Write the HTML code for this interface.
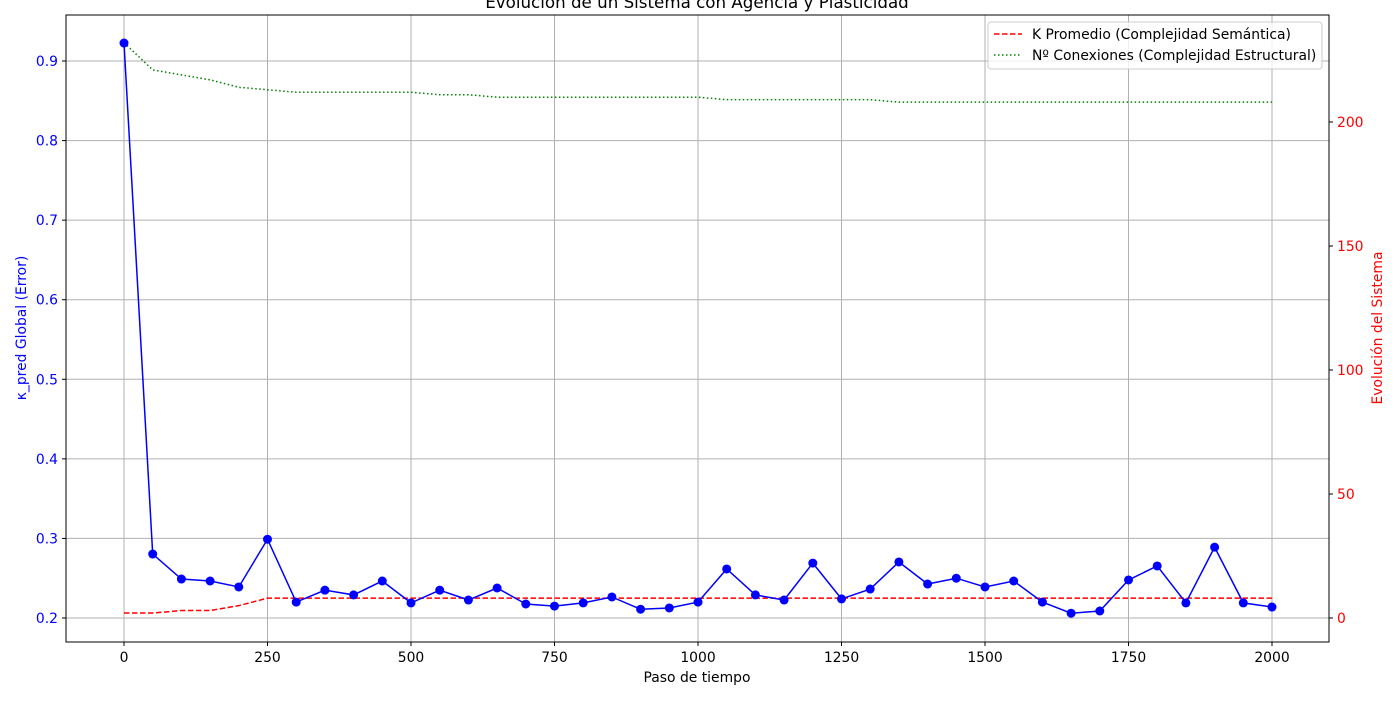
<!DOCTYPE html>
<html><head><meta charset="utf-8"><style>
body{margin:0;background:#fff;}
svg text{font-family:"DejaVu Sans","Liberation Sans",sans-serif;}
</style></head><body>
<svg id="c" width="1400" height="700" xmlns="http://www.w3.org/2000/svg"></svg>
<script>
const steps=[0,50,100,150,200,250,300,350,400,450,500,550,600,650,700,750,800,850,900,950,1000,1050,1100,1150,1200,1250,1300,1350,1400,1450,1500,1550,1600,1650,1700,1750,1800,1850,1900,1950,2000];
const kappa=[0.9226,0.2804,0.249,0.2465,0.239,0.299,0.220,0.235,0.229,0.2465,0.219,0.235,0.2226,0.2377,0.2176,0.215,0.219,0.2264,0.211,0.2126,0.220,0.2616,0.229,0.2226,0.269,0.224,0.2364,0.2704,0.2427,0.250,0.239,0.2465,0.220,0.206,0.2088,0.2478,0.2654,0.219,0.289,0.219,0.2138];
const kAvg=[2,2,3,3,5,8,8,8,8,8,8,8,8,8,8,8,8,8,8,8,8,8,8,8,8,8,8,8,8,8,8,8,8,8,8,8,8,8,8,8,8];
const conns=[232,221,219,217,214,213,212,212,212,212,212,211,211,210,210,210,210,210,210,210,210,209,209,209,209,209,209,208,208,208,208,208,208,208,208,208,208,208,208,208,208];
const xTicks=[0,250,500,750,1000,1250,1500,1750,2000];
const yTicks=[0.2,0.3,0.4,0.5,0.6,0.7,0.8,0.9];
const y2Ticks=[0,50,100,150,200];
const L=66,R=1329,T=15,B=642;
const X=v=>124+v*0.574;
const Y=v=>618-(v-0.2)*795.7;
const Y2=v=>618-v*2.48;
const svg=document.getElementById('c');
const NS='http://www.w3.org/2000/svg';
function mk(t,a,txt){const e=document.createElementNS(NS,t);for(const k in a)e.setAttribute(k,a[k]);if(txt!==undefined)e.textContent=txt;svg.appendChild(e);return e;}
xTicks.forEach(v=>{const e=mk('line',{x1:X(v),x2:X(v),y1:T,y2:B,stroke:'#b0b0b0','stroke-width':1});

});
yTicks.forEach(v=>{const e=mk('line',{x1:L,x2:R,y1:Y(v),y2:Y(v),stroke:'#b0b0b0','stroke-width':1});

});
const pts=(arr,f)=>arr.map((v,i)=>X(steps[i])+','+f(v)).join(' ');
let e=mk('polyline',{points:pts(conns,Y2),fill:'none',stroke:'green','stroke-width':1.5,'stroke-dasharray':'1.5,2.5'});


e=mk('polyline',{points:pts(kAvg,Y2),fill:'none',stroke:'red','stroke-width':1.5,'stroke-dasharray':'5.5,2.5'});


e=mk('polyline',{points:pts(kappa,Y),fill:'none',stroke:'blue','stroke-width':1.5});


kappa.forEach((v,i)=>{const c=mk('circle',{cx:X(steps[i]),cy:Y(v),r:4.5,fill:'blue'});

});
e=mk('rect',{x:L,y:T,width:R-L,height:B-T,fill:'none',stroke:'#000','stroke-width':1});


xTicks.forEach(v=>{mk('line',{x1:X(v),x2:X(v),y1:B,y2:B+4,stroke:'#000'});
const t=mk('text',{x:X(v),y:B+20,'text-anchor':'middle','font-size':13.9},v);

});
yTicks.forEach(v=>{mk('line',{x1:L-4,x2:L,y1:Y(v),y2:Y(v),stroke:'#000'});
const t=mk('text',{x:L-8,y:Y(v)+5,'text-anchor':'end','font-size':13.9,fill:'blue'},v.toFixed(1));

});
y2Ticks.forEach(v=>{mk('line',{x1:R,x2:R+4,y1:Y2(v),y2:Y2(v),stroke:'#000'});
const t=mk('text',{x:R+8,y:Y2(v)+5,'font-size':13.9,fill:'red'},v);

});
e=mk('text',{x:697,y:682,'text-anchor':'middle','font-size':13.9},'Paso de tiempo');


e=mk('text',{x:26,y:328,'text-anchor':'middle','font-size':13.9,fill:'blue',transform:'rotate(-90 26 328)'},'κ_pred Global (Error)');


e=mk('text',{x:1382,y:328,'text-anchor':'middle','font-size':13.9,fill:'red',transform:'rotate(-90 1382 328)'},'Evolución del Sistema');


e=mk('text',{x:697,y:8,'text-anchor':'middle','font-size':16.7},'Evolución de un Sistema con Agencia y Plasticidad');


e=mk('rect',{x:988,y:22,width:334,height:47,rx:3,fill:'#fff','fill-opacity':0.8,stroke:'#ccc'});


mk('line',{x1:994,x2:1022,y1:34,y2:34,stroke:'red','stroke-width':1.5,'stroke-dasharray':'5.5,2.5'});
e=mk('text',{x:1032,y:39,'font-size':13.9},'K Promedio (Complejidad Semántica)');


mk('line',{x1:994,x2:1022,y1:55,y2:55,stroke:'green','stroke-width':1.5,'stroke-dasharray':'1.5,2.5'});
e=mk('text',{x:1032,y:60,'font-size':13.9},'Nº Conexiones (Complejidad Estructural)');


</script>
</body></html>
